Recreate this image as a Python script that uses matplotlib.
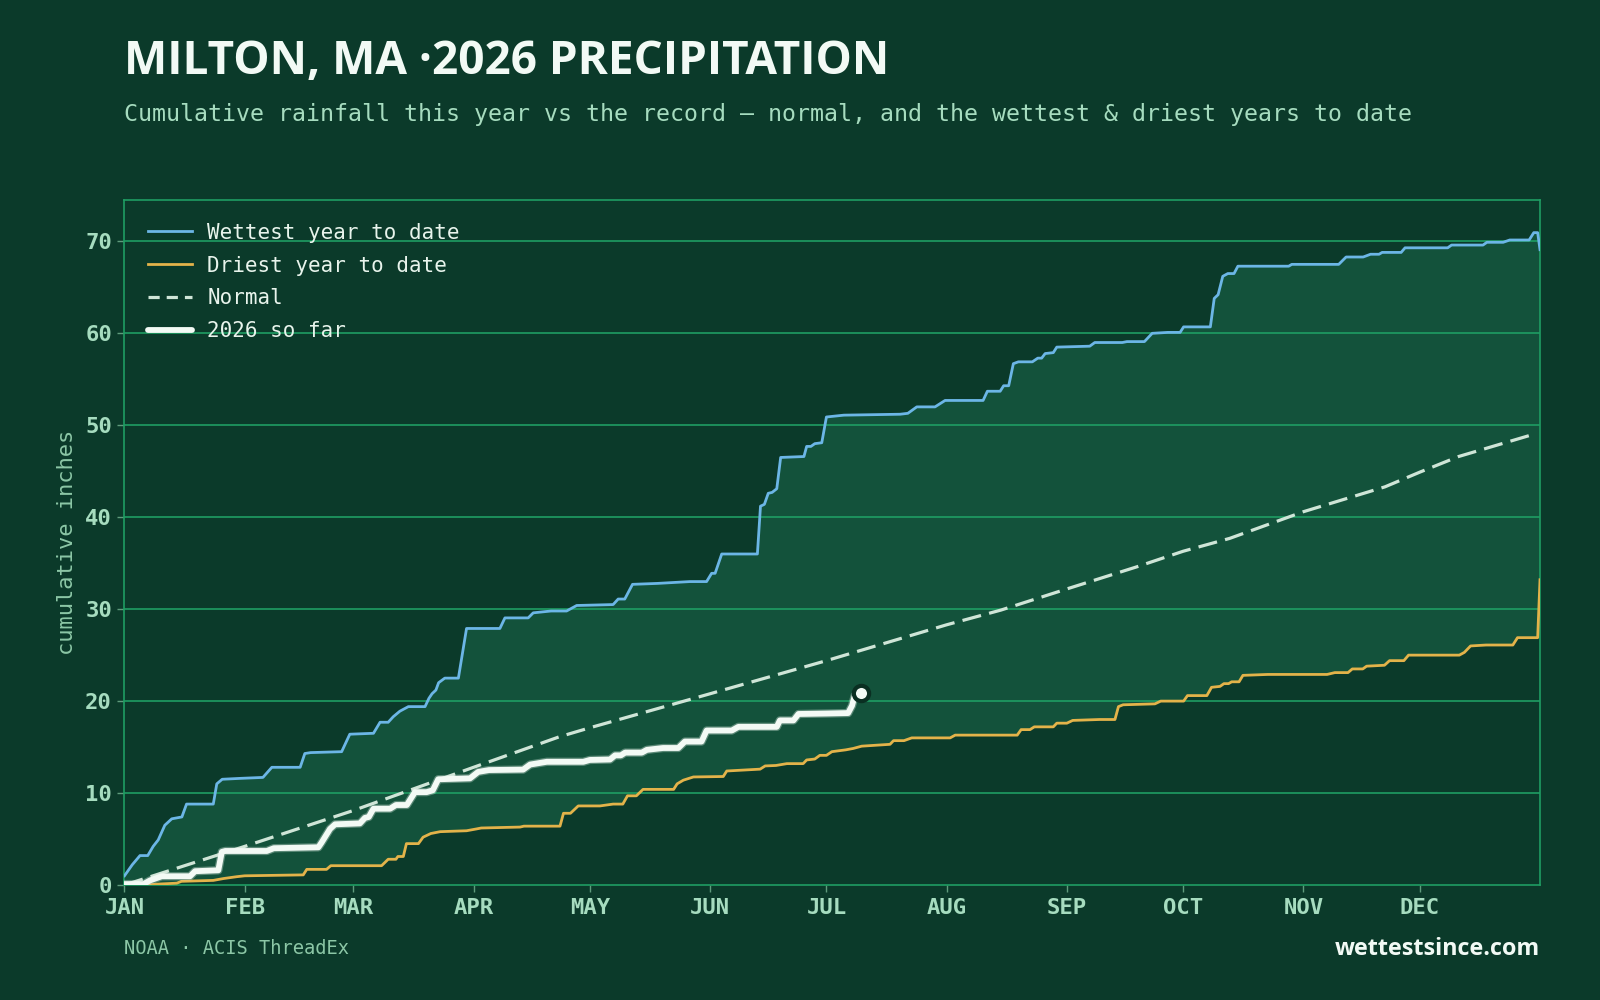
import matplotlib
matplotlib.use("Agg")
import matplotlib.pyplot as plt
from matplotlib.lines import Line2D
import matplotlib.patheffects as pe

# ---------------- data (day of year, cumulative inches) ----------------
month_ticks = [0, 31, 59, 90, 120, 151, 181, 212, 243, 273, 304, 334]
month_labels = ["JAN", "FEB", "MAR", "APR", "MAY", "JUN", "JUL", "AUG", "SEP", "OCT", "NOV", "DEC"]
y_ticks = [0, 10, 20, 30, 40, 50, 60, 70]

wettest_days = [0, 2, 4, 6, 7.4, 8.7, 10.4, 12.2, 14.8, 16, 22.9, 23.8, 25.2, 30, 35.7, 38, 45.3, 46.5,
                48, 56, 58.1, 64.2, 65.9, 68, 69.3, 71, 73.2, 77.5, 78.5, 79.3, 80.3, 81, 82.6, 86.1,
                88.2, 96.8, 98.1, 104.1, 105.4, 110, 114, 116.6, 126, 127.3, 129, 131, 137.4, 145.8,
                150.1, 151.4, 152.3, 154, 163.2, 164, 165, 166, 167, 168.2, 169.2, 175.2, 175.9, 177,
                178, 179.8, 181, 185.5, 200, 202, 204.3, 209, 211.6, 221.4, 222.5, 225.8, 226.7, 228,
                229.2, 230.5, 234.1, 235.5, 236.5, 237.4, 239.5, 240.4, 248.9, 250.2, 257.3, 258.5,
                263, 265, 269, 272.2, 273.1, 280, 281, 282, 283.2, 284.5, 286.1, 287.1, 300.2, 301,
                313.1, 315, 319.4, 321.3, 323.5, 324.3, 329.2, 330.2, 341.2, 342.2, 350.3, 351.3,
                355.5, 357.2, 362.2, 363.4, 364.4, 365]
wettest_in = [1.0, 2.2, 3.2, 3.2, 4.2, 4.9, 6.5, 7.2, 7.4, 8.8, 8.8, 11.0, 11.5, 11.6, 11.7, 12.8, 12.8, 14.3,
              14.4, 14.5, 16.4, 16.5, 17.7, 17.7, 18.3, 18.9, 19.4, 19.4, 20.3, 20.8, 21.2, 22.0, 22.5, 22.5,
              27.9, 27.9, 29.05, 29.05, 29.6, 29.8, 29.8, 30.4, 30.5, 31.1, 31.1, 32.7, 32.8, 33.0,
              33.0, 33.9, 33.9, 36.0, 36.0, 41.2, 41.4, 42.6, 42.7, 43.1, 46.5, 46.6, 47.7, 47.7,
              48.0, 48.1, 50.9, 51.1, 51.2, 51.3, 52.0, 52.0, 52.7, 52.7, 53.7, 53.7, 54.3, 54.3,
              56.7, 56.9, 56.9, 57.3, 57.3, 57.8, 57.9, 58.5, 58.6, 59.0, 59.0, 59.1,
              59.1, 60.0, 60.1, 60.1, 60.7, 60.7, 63.8, 64.2, 66.2, 66.5, 66.5, 67.3, 67.3, 67.5,
              67.5, 68.3, 68.3, 68.6, 68.6, 68.8, 68.8, 69.3, 69.3, 69.6, 69.6, 69.9,
              69.9, 70.15, 70.15, 70.95, 70.95, 69.1]

driest_days = [0, 5.7, 8.7, 13.5, 14.7, 22.9, 25.5, 28.9, 31, 46.1, 47, 52.1, 53.2, 66.3, 68, 70, 70.5, 71.9,
               72.7, 75.8, 77, 79, 81.4, 88.2, 90.8, 92, 102, 103, 112.3, 113.2, 115, 117, 122.6, 126,
               128.5, 129.7, 132, 133.7, 141.6, 142.5, 144.1, 146.7, 154.4, 155.3, 163.9, 165.2, 168,
               170.8, 175, 175.9, 178, 179.3, 181, 182.4, 186, 187.9, 190.1, 197.4, 198.3, 201, 203,
               212.9, 214.2, 230.2, 231.2, 233.5, 234.6, 239.5, 240.4, 243, 244.5, 251.4, 255.4, 256.3,
               257.5, 265.7, 267.2, 273.1, 274.1, 279.1, 280.3, 282.5, 283.5, 284.7, 285.5, 287.4,
               288.4, 294.8, 310.1, 312.1, 315.5, 316.6, 319.3, 320.3, 324.9, 326.2, 329.9, 331.1,
               344.2, 345.5, 347.1, 351.1, 358, 359.2, 364.4, 365]
driest_in = [0, 0, 0.1, 0.2, 0.4, 0.5, 0.7, 0.9, 1.0, 1.1, 1.7, 1.7, 2.1, 2.1, 2.8, 2.8, 3.1, 3.1,
             4.5, 4.5, 5.2, 5.6, 5.8, 5.9, 6.1, 6.2, 6.3, 6.4, 6.4, 7.8, 7.8, 8.6, 8.6, 8.8,
             8.8, 9.7, 9.7, 10.4, 10.4, 11.0, 11.4, 11.75, 11.8, 12.4, 12.6, 12.95, 13.0,
             13.2, 13.2, 13.6, 13.7, 14.1, 14.1, 14.5, 14.7, 14.85, 15.1, 15.3, 15.7, 15.7, 16.0,
             16.0, 16.3, 16.3, 16.9, 16.9, 17.2, 17.2, 17.6, 17.6, 17.9, 18.0, 18.0, 19.4,
             19.6, 19.7, 20.0, 20.0, 20.6, 20.6, 21.5, 21.6, 21.9, 21.9, 22.1, 22.1,
             22.8, 22.9, 22.9, 23.1, 23.1, 23.5, 23.5, 23.8, 23.9, 24.4, 24.4, 25.0,
             25.0, 25.3, 26.0, 26.1, 26.1, 26.9, 26.9, 33.2]

normal_days = [0, 31, 59, 90, 112, 120, 151, 181, 212, 226, 243, 261, 273, 285, 304, 325, 334, 344, 364]
normal_in = [0, 4.2, 8.1, 12.8, 16.1, 17.1, 20.8, 24.4, 28.3, 29.9, 32.2, 34.6, 36.3, 37.7, 40.6, 43.3,
             44.9, 46.6, 49.1]

y2026_days = [0, 4.9, 6.6, 9.6, 16.9, 18.2, 24.2, 25.1, 26, 36.7, 38.5, 50, 50.8, 53, 54.3, 60.7, 62, 63,
              64.2, 68.5, 70, 72.8, 74.9, 77.9, 79.5, 80.9, 89.1, 91.2, 94, 102.8, 104.6, 108.9, 118.3,
              120, 125.2, 126.5, 128, 129.1, 133.4, 134.7, 138.9, 142.8, 144.5, 148.8, 150.1, 156.6,
              158.3, 168.2, 169, 172.5, 173.8, 181.1, 186.6, 187.6, 188.3, 190]
y2026_in = [0.1, 0.1, 0.5, 0.95, 0.95, 1.5, 1.6, 3.6, 3.7, 3.7, 4.0, 4.1, 4.6, 6.1, 6.6, 6.7, 7.3, 7.4,
            8.3, 8.3, 8.7, 8.7, 10.1, 10.1, 10.3, 11.5, 11.6, 12.3, 12.5, 12.55, 13.1, 13.4, 13.4,
            13.6, 13.65, 14.1, 14.1, 14.4, 14.4, 14.7, 14.9, 14.9, 15.6, 15.6, 16.8, 16.8,
            17.2, 17.2, 17.9, 17.9, 18.6, 18.65, 18.7, 19.5, 20.6, 20.85]

# ---------------- style ----------------
BG = "#0b3a2a"
FILL = "#13523b"
GRID = "#1f9d63"
TICK = "#a6dcbf"
MUTED = "#8cc7a6"
WET = "#6cb6e6"
DRY = "#e3b34a"
NORM = "#cfe5d7"
CUR = "#f3faf5"
MONO = "DejaVu Sans Mono"

fig = plt.figure(figsize=(16, 10), dpi=100, facecolor=BG)
ax = fig.add_axes([0.0778, 0.115, 0.8847, 0.685], facecolor=BG)

# band between wettest and driest
poly_x = list(wettest_days) + list(reversed(driest_days))
poly_y = list(wettest_in) + list(reversed(driest_in))
ax.fill(poly_x, poly_y, color=FILL, lw=0, zorder=1)

for yv in y_ticks[1:]:
    ax.axhline(yv, color=GRID, lw=1.2, zorder=2)

ax.plot(wettest_days, wettest_in, color=WET, lw=2.0, zorder=4, solid_joinstyle="round")
ax.plot(driest_days, driest_in, color=DRY, lw=2.0, zorder=4, solid_joinstyle="round")
ax.plot(normal_days, normal_in, color=NORM, lw=2.3, dashes=(6, 2.6), zorder=4)
ax.plot(y2026_days, y2026_in, color=CUR, lw=4.2, zorder=5, solid_joinstyle="round",
        solid_capstyle="round",
        path_effects=[pe.Stroke(linewidth=6.0, foreground="#dfeee5", alpha=0.35), pe.Normal()])
ax.plot([y2026_days[-1]], [y2026_in[-1]], "o", ms=11, mfc=CUR, mec="#0a2f22", mew=3, zorder=6)

ax.set_xlim(0, 365)
ax.set_ylim(0, 74.5)
ax.set_xticks(month_ticks)
ax.set_xticklabels(month_labels)
ax.set_yticks(y_ticks)
ax.set_yticklabels([str(v) for v in y_ticks])
for lab in ax.get_xticklabels() + ax.get_yticklabels():
    lab.set_fontfamily(MONO)
    lab.set_fontweight("bold")
    lab.set_fontsize(16)
    lab.set_color(TICK)
ax.tick_params(axis="both", colors="#5f9b7c", length=5, width=1)
ax.tick_params(axis="x", pad=4, labelcolor=TICK)
ax.tick_params(axis="y", pad=4, labelcolor=TICK)
for sp in ax.spines.values():
    sp.set_color(GRID)
    sp.set_linewidth(1.2)

ax.set_ylabel("cumulative inches", fontfamily=MONO, fontsize=15.8, color=MUTED, labelpad=6)

handles = [
    Line2D([], [], color=WET, lw=2.0),
    Line2D([], [], color=DRY, lw=2.0),
    Line2D([], [], color=NORM, lw=2.3, dashes=(3.5, 2.2)),
    Line2D([], [], color=CUR, lw=4.2, solid_capstyle="round"),
]
labels = ["Wettest year to date", "Driest year to date", "Normal", "2026 so far"]
leg = ax.legend(handles, labels, loc="upper left", bbox_to_anchor=(0.0166, 0.967), frameon=False,
                borderpad=0, borderaxespad=0, handlelength=2.1, handletextpad=0.75,
                labelspacing=0.62, prop={"family": MONO, "size": 15})
for t in leg.get_texts():
    t.set_color("#e8f4ec")

fig.text(0.0778, 0.9255, "MILTON, MA \u00b72026 PRECIPITATION", fontfamily="Open Sans",
         fontweight="bold", fontsize=33, color="#f2faf5", ha="left", va="baseline")
fig.text(0.0778, 0.885,
         "Cumulative rainfall this year vs the record \u2014 normal, and the wettest & driest years to date",
         fontfamily=MONO, fontsize=16.75, color="#a6dcbf", ha="left", va="center")
fig.text(0.0778, 0.052, "NOAA \u00b7 ACIS ThreadEx", fontfamily=MONO, fontsize=13.5,
         color=MUTED, ha="left", va="center")
fig.text(0.9625, 0.051, "wettestsince.com", fontfamily="Open Sans", fontweight="bold",
         fontsize=16.8, color="#f2faf5", ha="right", va="center")

fig.savefig("out.png", dpi=100, facecolor=BG)
